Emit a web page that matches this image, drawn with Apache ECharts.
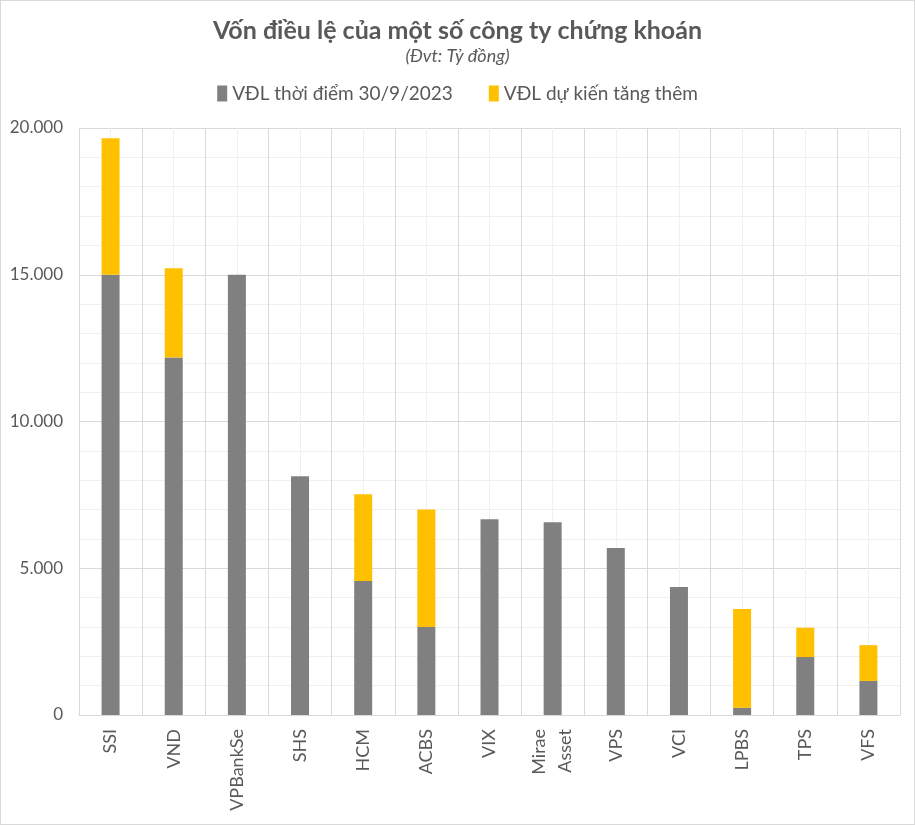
<!DOCTYPE html>
<html><head><meta charset="utf-8">
<script src="https://cdn.jsdelivr.net/npm/echarts@6/dist/echarts.min.js"></script>
<style>
html,body{margin:0;padding:0;background:#fff;}
#c{width:913px;height:823px;border:1px solid #d9d9d9;}
</style></head>
<body><div id="c"></div>
<script>
const categories = ['SSI','VND','VPBankSe','SHS','HCM','ACBS','VIX','Mirae\nAsset','VPS','VCI','LPBS','TPS','VFS'];
const vdlHienTai = [15000,12178,15000,8131,4563,3000,6672,6565,5686,4357,250,1974,1160];
const vdlTangThem = [4650,3040,0,0,2960,4000,0,0,0,0,3360,1000,1220];
const yTicks = [0,5000,10000,15000,20000];
const seriesNames = ['VĐL thời điểm 30/9/2023','VĐL dự kiến tăng thêm'];

const FONT = 'Lato, "Open Sans", sans-serif';
const chart = echarts.init(document.getElementById('c'));
const fmt = v => String(v).replace(/\B(?=(\d{3})+(?!\d))/g, '.');
chart.setOption({
  animation:false,
  textStyle:{fontFamily:FONT},
  title:{
    text:'Vốn điều lệ của một số công ty chứng khoán',
    subtext:'(Đvt: Tỷ đồng)',
    left:'center', top:12, itemGap:4,
    textStyle:{fontFamily:FONT,fontSize:25,fontWeight:'bold',color:'#595959'},
    subtextStyle:{fontFamily:FONT,fontSize:18,fontStyle:'italic',color:'#595959'}
  },
  legend:{
    top:78, left:'center', itemWidth:10, itemHeight:16, itemGap:36,
    icon:'rect',
    textStyle:{fontFamily:FONT,fontSize:19,color:'#595959'},
    data:seriesNames
  },
  grid:{left:78,right:14,top:127,bottom:109,containLabel:false},
  xAxis:{
    type:'category', data:categories,
    axisLine:{lineStyle:{color:'#d9d9d9'}},
    axisTick:{show:false},
    splitLine:{show:true,lineStyle:{color:'#d9d9d9'}},
    axisLabel:{rotate:90,fontFamily:FONT,fontSize:18,color:'#595959',margin:14,lineHeight:26,interval:0}
  },
  yAxis:{
    type:'value', min:yTicks[0], max:yTicks[yTicks.length-1], interval:5000,
    axisLine:{show:false}, axisTick:{show:false},
    splitLine:{lineStyle:{color:'#d9d9d9'}},
    minorTick:{show:false,splitNumber:5},
    minorSplitLine:{show:true,lineStyle:{color:'#f0f0f0'}},
    axisLabel:{formatter:fmt,fontFamily:FONT,fontSize:17,color:'#595959',margin:16}
  },
  series:[
    {name:'guides',type:'line',data:[],z:1,silent:true,
     markLine:{silent:true,symbol:'none',label:{show:false},
       lineStyle:{color:'#f0f0f0',type:'solid',width:1},
       data:categories.map(c=>({xAxis:c}))}},
    {name:seriesNames[0],type:'bar',stack:'a',data:vdlHienTai,barWidth:18,itemStyle:{color:'#808080'},z:10},
    {name:seriesNames[1],type:'bar',stack:'a',data:vdlTangThem,barWidth:18,itemStyle:{color:'#ffc000'},z:10}
  ]
});
</script></body></html>
